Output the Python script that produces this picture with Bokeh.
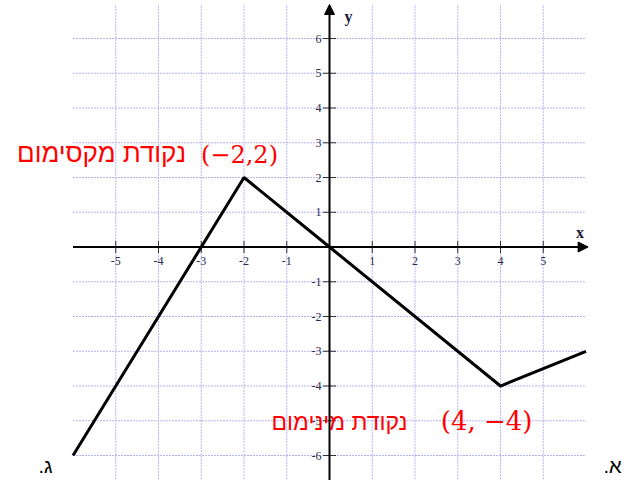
from bokeh.plotting import figure
from bokeh.models import Range1d, Arrow, NormalHead
from bokeh.core.properties import value
from bokeh.embed import file_html
from bokeh.resources import INLINE

# ---- data ----
line_x = [-6, -2, 0, 4, 6]
line_y = [-6, 2, 0, -4, -3]
x_ticks = [-5, -4, -3, -2, -1, 1, 2, 3, 4, 5]
y_ticks = [-6, -5, -4, -3, -2, -1, 1, 2, 3, 4, 5, 6]
x_tick_labels = [str(v) for v in x_ticks]
y_tick_labels = [str(v) for v in y_ticks]
max_point = (-2, 2)
min_point = (4, -4)
max_label_he = "נקודת מקסימום"
max_label_math = "(−2,2)"
min_label_he = "נקודת מינימום"
min_label_math = "(4, −4)"
corner_left = ".ג"
corner_right = ".א"

# ---- figure ----
p = figure(width=623, height=480,
           x_range=Range1d(-7.696, 6.877), y_range=Range1d(-6.719, 7.094),
           x_axis_type=None, y_axis_type=None,
           output_backend="svg", toolbar_location=None, min_border=0)
p.outline_line_color = None
p.grid.visible = False
p.background_fill_color = "white"
p.border_fill_color = "white"

grid_color = "#b4b4f4"
# horizontal grid lines
p.segment(x0=[-6] * len(y_ticks), y0=y_ticks, x1=[6] * len(y_ticks), y1=y_ticks,
          line_color=grid_color, line_width=1, line_dash="2 1")
# vertical grid lines
p.segment(x0=x_ticks, y0=[-7.2] * len(x_ticks), x1=x_ticks, y1=[6.98] * len(x_ticks),
          line_color=grid_color, line_width=1, line_dash="2 1")

# axes with arrows
p.add_layout(Arrow(x_start=-6, y_start=0, x_end=6.05, y_end=0,
                   line_color="black", line_width=2,
                   end=NormalHead(size=10, fill_color="black", line_color="black")))
p.add_layout(Arrow(x_start=0, y_start=-7.2, x_end=0, y_end=6.98,
                   line_color="black", line_width=2,
                   end=NormalHead(size=10, fill_color="black", line_color="black")))

# tick marks
p.scatter(x=x_ticks, y=[0] * len(x_ticks), marker="dash", angle=1.5708, size=12,
          line_color="#333333", line_width=1)
p.scatter(x=[0] * len(y_ticks), y=y_ticks, marker="dash", size=13,
          line_color="#333333", line_width=1)

tick_color = "#2a2a50"
p.text(x=x_ticks, y=[0] * len(x_ticks), text=x_tick_labels, y_offset=14,
       text_align="center", text_baseline="middle",
       text_font=value("Liberation Serif"), text_font_size="12px", text_color=tick_color)
p.text(x=[0] * len(y_ticks), y=y_ticks, text=y_tick_labels, x_offset=-8,
       text_align="right", text_baseline="middle",
       text_font=value("Liberation Serif"), text_font_size="12px", text_color=tick_color)

# axis names
p.text(x=[6], y=[0], text=["x"], x_offset=-6, y_offset=-15,
       text_align="center", text_baseline="middle", text_font_style="bold",
       text_font=value("Liberation Serif"), text_font_size="16px", text_color="#1a1a40")
p.text(x=[0], y=[6.98], text=["y"], x_offset=19, y_offset=12,
       text_align="center", text_baseline="middle", text_font_style="bold",
       text_font=value("Liberation Serif"), text_font_size="16px", text_color="#1a1a40")

# function line
p.line(line_x, line_y, line_color="black", line_width=3)

# labels
red = "#ff0000"
p.text(x=[max_point[0]], y=[max_point[1]], text=[max_label_math], x_offset=34, y_offset=-23,
       text_align="right", text_baseline="middle",
       text_font=value("DejaVu Serif"), text_font_size="24px", text_color=red)
p.text(x=[max_point[0]], y=[max_point[1]], text=[max_label_he], x_offset=-58, y_offset=-25,
       text_align="right", text_baseline="middle",
       text_font=value("Liberation Sans"), text_font_size="26px", text_color=red)
p.text(x=[min_point[0]], y=[min_point[1]], text=[min_label_math], x_offset=32, y_offset=35,
       text_align="right", text_baseline="middle",
       text_font=value("DejaVu Serif"), text_font_size="26px", text_color=red)
p.text(x=[min_point[0]], y=[min_point[1]], text=[min_label_he], x_offset=-93, y_offset=36,
       text_align="right", text_baseline="middle",
       text_font=value("Liberation Sans"), text_font_size="23px", text_color=red)

# corner letters
p.text(x=[-6.807], y=[-6.30], text=[corner_left], text_align="left", text_baseline="middle",
       text_font=value("Liberation Sans"), text_font_size="20px", text_color="black")
p.text(x=[6.830], y=[-6.30], text=[corner_right], text_align="right", text_baseline="middle",
       text_font=value("Liberation Sans"), text_font_size="20px", text_color="black")

open("out.html", "w").write(file_html(p, INLINE))
